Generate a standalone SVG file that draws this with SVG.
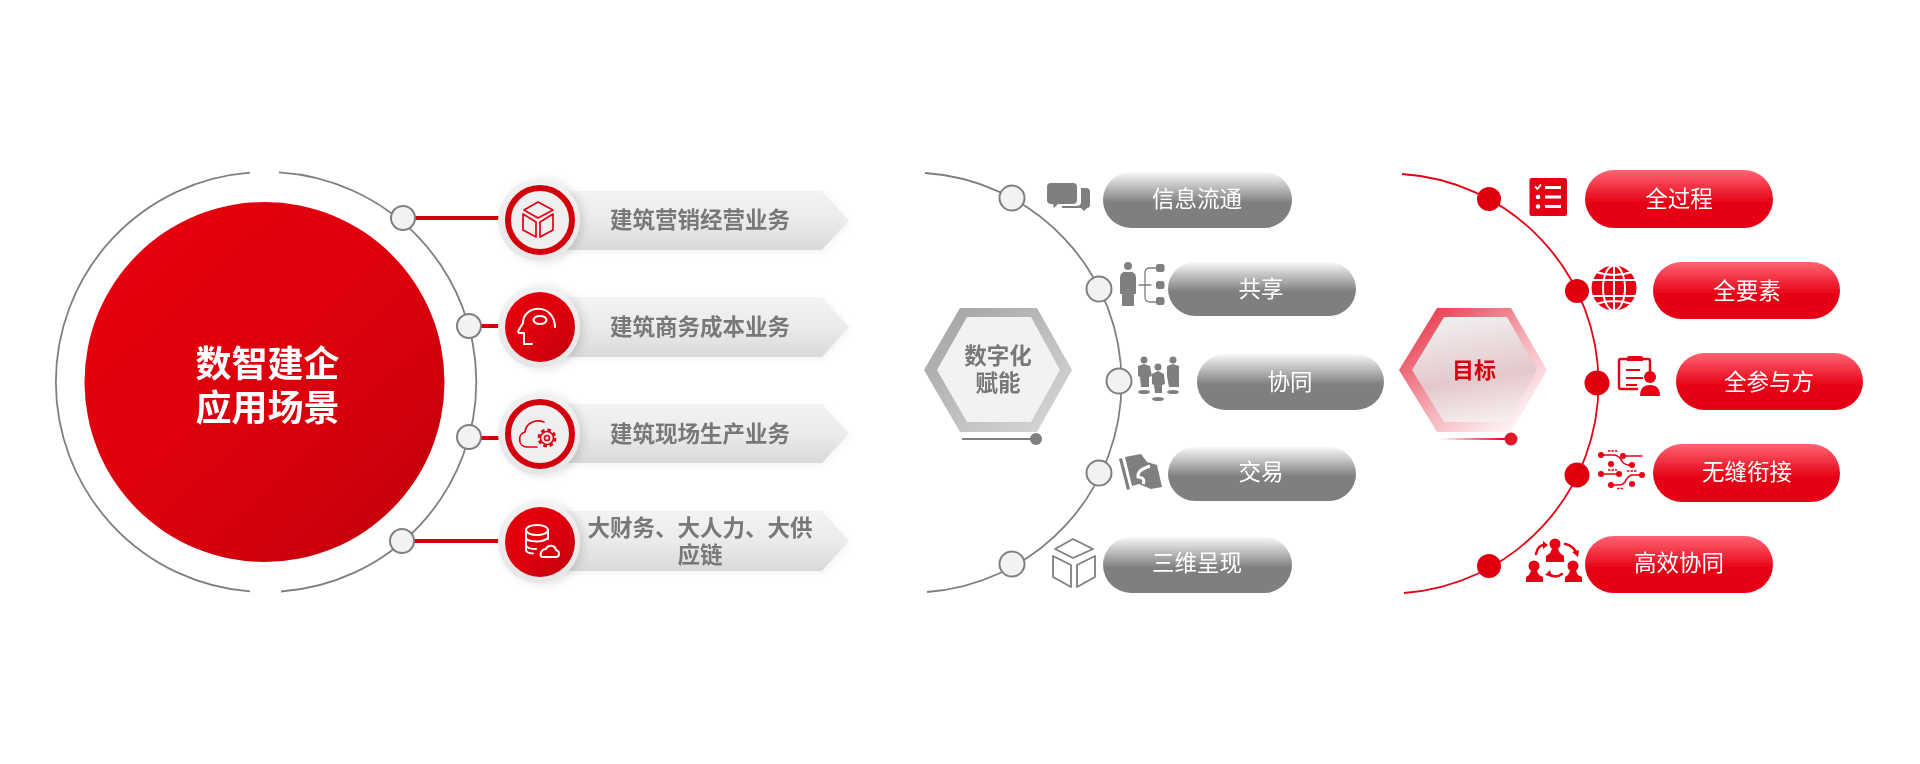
<svg xmlns="http://www.w3.org/2000/svg" width="1920" height="764" viewBox="0 0 1920 764">
<defs>
<linearGradient id="gMain" x1="0.15" y1="0.15" x2="0.85" y2="0.9"><stop offset="0" stop-color="#e40011"/><stop offset="0.55" stop-color="#dc000e"/><stop offset="1" stop-color="#c80008"/></linearGradient>
<linearGradient id="gBan" x1="0" y1="0" x2="0" y2="1"><stop offset="0" stop-color="#f3f3f3"/><stop offset="0.5" stop-color="#ebebeb"/><stop offset="1" stop-color="#d9d9d9"/></linearGradient>
<linearGradient id="gCirc" x1="0" y1="0" x2="0" y2="1"><stop offset="0" stop-color="#f2f2f2"/><stop offset="1" stop-color="#e6e6e6"/></linearGradient>
<linearGradient id="gGrayPill" x1="0" y1="0" x2="0" y2="1"><stop offset="0" stop-color="#f8f8f8"/><stop offset="0.55" stop-color="#7f7f7f"/><stop offset="1" stop-color="#7f7f7f"/></linearGradient>
<linearGradient id="gRedPill" x1="0" y1="0" x2="0" y2="1"><stop offset="0" stop-color="#ff6473"/><stop offset="0.58" stop-color="#e60012"/><stop offset="1" stop-color="#e60012"/></linearGradient>
<linearGradient id="gHexG" x1="0" y1="0" x2="1" y2="1"><stop offset="0" stop-color="#a0a0a0"/><stop offset="1" stop-color="#dadada"/></linearGradient>
<linearGradient id="gHexR" x1="0.1" y1="0.1" x2="0.9" y2="0.95"><stop offset="0" stop-color="#e83c50"/><stop offset="0.55" stop-color="#f6b4bb"/><stop offset="1" stop-color="#ffffff"/></linearGradient>
<linearGradient id="gHexRI" x1="0.35" y1="0" x2="0.55" y2="1"><stop offset="0" stop-color="#f1eeee"/><stop offset="0.6" stop-color="#e3c8cc"/><stop offset="1" stop-color="#f7eeee"/></linearGradient>
<linearGradient id="gLineR" gradientUnits="userSpaceOnUse" x1="1440" y1="0" x2="1505" y2="0"><stop offset="0" stop-color="#e60012" stop-opacity="0"/><stop offset="1" stop-color="#e60012"/></linearGradient>
<filter id="fBan" x="-5%" y="-15%" width="115%" height="135%"><feDropShadow dx="1" dy="2" stdDeviation="3.500" flood-color="#000" flood-opacity="0.05"/></filter>
<filter id="fCirc" x="-25%" y="-25%" width="150%" height="150%"><feDropShadow dx="4" dy="1" stdDeviation="4" flood-color="#000" flood-opacity="0.12"/></filter>
<filter id="fSoft" filterUnits="userSpaceOnUse" x="0" y="0" width="1920" height="764"><feGaussianBlur stdDeviation="0.45"/></filter>
</defs>
<style>
text{font-family:"Liberation Sans","Noto Sans CJK SC",sans-serif;text-anchor:middle}
.t22w{font-size:22.500px;fill:#fff}
.t22g{font-size:22.500px;fill:#787878;font-weight:700}
.arcG{fill:none;stroke:#7f7f7f;stroke-width:1.800}
.arcR{fill:none;stroke:#e60012;stroke-width:1.800}
.link{stroke:#d0000e;stroke-width:4;fill:none}
.dotG{fill:#f2f2f2;stroke:#7f7f7f;stroke-width:2}
.dotR{fill:#e00010}
.ban{fill:url(#gBan);filter:url(#fBan)}
.halo{fill:url(#gCirc);filter:url(#fCirc)}
.disc{fill:url(#gMain)}
.ring{fill:#efefef;stroke:#d2000e;stroke-width:6}
.pg{fill:url(#gGrayPill)}
.pr{fill:url(#gRedPill)}
.icoR{fill:none;stroke:#e60012;stroke-width:1.700;stroke-linejoin:round;stroke-linecap:round}
.icoW{fill:none;stroke:#fff;stroke-width:2;stroke-linejoin:round;stroke-linecap:round}
.icoG{fill:none;stroke:#7f7f7f;stroke-width:1.800;stroke-linejoin:round;stroke-linecap:round}
.fG{fill:#7f7f7f}
.fR{fill:#e60012}
.lnR{stroke:#e60012;stroke-width:1.600;fill:none;stroke-linecap:round}
</style>
<g id="diagram" filter="url(#fSoft)">
<rect x="0" y="0" width="1920" height="764" fill="#fff"/>
<g id="connectors">
<path class="arcG" d="M279 172.400A210 210 0 0 1 281 591.500"/>
<path class="arcG" d="M250 591.400A210 210 0 0 1 250 172.600"/>
<path class="link" d="M415 218H505M481 326H505M478 438H505M414 541H505"/>
<path class="arcG" d="M925 173A210 210 0 0 1 927 592"/>
<path class="arcR" d="M1402 174A210 210 0 0 1 1404 593"/>
<path d="M962 439H1036" stroke="#7f7f7f" stroke-width="2" fill="none"/>
<path d="M1440 439.010H1510" stroke="url(#gLineR)" stroke-width="2" fill="none"/>
</g>

<g id="hub">
<circle cx="264.500" cy="382" r="180" class="disc"/>
<text x="267.500" y="377" font-size="36" font-weight="700" style="fill:#fff">数智建企</text>
<text x="267.500" y="421" font-size="36" font-weight="700" style="fill:#fff">应用场景</text>
</g>
<g id="hub-dot-1"><circle cx="403" cy="218" r="12" class="dotG"/></g>
<g id="hub-dot-2"><circle cx="469" cy="326" r="12" class="dotG"/></g>
<g id="hub-dot-3"><circle cx="469" cy="437" r="12" class="dotG"/></g>
<g id="hub-dot-4"><circle cx="402" cy="541" r="12" class="dotG"/></g>

<g id="item-marketing">
<path class="ban" d="M560 191H822L849 220.500L822 250H560Z"/>
<circle cx="539" cy="220" r="41" class="halo"/>
<circle cx="540" cy="220" r="32" class="ring"/>
<path class="icoR" d="M538 202L553 210L538 218L524 210ZM523 214L536 222V237L523 230ZM553 214L540 222V237L553 230Z"/>
<text x="700" y="228" class="t22g">建筑营销经营业务</text>
</g>
<g id="item-commercial">
<path class="ban" d="M560 297H822L849 327L822 357H560Z"/>
<circle cx="539" cy="327" r="41" class="halo"/>
<circle cx="540" cy="327" r="35" class="disc"/>
<path class="icoW" d="M532 344H524V333H519.500Q517.500 332.500 518.500 330.500L523 323C523 305 554 302 555 327"/>
<ellipse cx="540" cy="320" rx="6.500" ry="4" class="icoW"/>
<text x="700" y="335" class="t22g">建筑商务成本业务</text>
</g>
<g id="item-site">
<path class="ban" d="M560 404H822L849 433.500L822 463H560Z"/>
<circle cx="539" cy="434" r="41" class="halo"/>
<circle cx="540" cy="434" r="32" class="ring"/>
<path class="icoR" d="M537 447H527C518 447 517 434 525 432C526 423 535 419 544 422"/>
<circle cx="547" cy="438" r="8" fill="none" stroke="#e60012" stroke-width="3" stroke-dasharray="3.500 2.800"/>
<circle cx="547" cy="438" r="6.500" class="icoR"/>
<circle cx="547" cy="438" r="2.500" class="icoR"/>
<text x="700" y="442" class="t22g">建筑现场生产业务</text>
</g>
<g id="item-finance">
<path class="ban" d="M560 511H822L849 541L822 571H560Z"/>
<circle cx="539" cy="542" r="41" class="halo"/>
<circle cx="540" cy="542" r="35" class="disc"/>
<ellipse cx="537" cy="530" rx="11" ry="5" class="icoW"/>
<path class="icoW" d="M526 530V550Q526 553 533 553.500M526 538C527 542 543 543 548 538V530M526 546C528 549 532 549 536 549M548 530V539"/>
<path class="icoW" d="M542 557H556C560 557 560 551 556 550C555 545 548 544 546 549C541 549 539 556 542 557Z"/>
<text x="700" y="536" class="t22g">大财务、大人力、大供</text>
<text x="700" y="563" class="t22g">应链</text>
</g>

<g id="hex-digital">
<path d="M924 370L960 308H1037L1072 370L1037 432H960Z" fill="url(#gHexG)"/>
<path d="M937 370L967 317H1031L1060 370L1031 422H967Z" fill="#f2f2f2"/>
<circle cx="1036" cy="439" r="6" class="fG"/>
<text x="998" y="364" class="t22g">数字化</text>
<text x="998" y="391" class="t22g">赋能</text>
</g>

<g id="g-info">
<circle cx="1012" cy="198" r="12.500" class="dotG"/>
<path class="fG" d="M1051 183H1073Q1077 183 1077 187V200Q1077 204 1073 204H1058L1054 208L1053 204H1051Q1047 204 1047 200V187Q1047 183 1051 183Z"/>
<path class="fG" d="M1081 188H1086Q1090 188 1090 192V205Q1090 208 1087 208L1084 211L1081 208H1062V206H1076Q1081 206 1081 202Z"/>
<rect x="1103" y="172" width="189" height="56" rx="28" class="pg"/>
<text x="1197" y="207" class="t22w">信息流通</text>
</g>
<g id="g-share">
<circle cx="1099" cy="289" r="12.500" class="dotG"/>
<circle cx="1128" cy="266" r="4" class="fG"/>
<path class="fG" d="M1124 272H1132Q1136 273 1136 278V294L1134 294V306H1122V294L1120 294V278Q1120 273 1124 272Z"/>
<path class="icoG" style="stroke-width:1.300" d="M1139 285H1151M1156 268H1150Q1145 268 1145 273V297Q1145 302 1150 302H1156"/>
<rect x="1156" y="264" width="8.500" height="8" rx="2.500" class="fG"/>
<rect x="1156" y="281" width="8.500" height="8" rx="2.500" class="fG"/>
<rect x="1156" y="297" width="8.500" height="8" rx="2.500" class="fG"/>
<rect x="1168" y="262" width="188" height="54" rx="27" class="pg"/>
<text x="1261" y="297" class="t22w">共享</text>
</g>
<g id="g-collab">
<circle cx="1119" cy="381" r="12.500" class="dotG"/>
<circle cx="1144" cy="360" r="3.500" class="fG"/><circle cx="1173" cy="360" r="3.500" class="fG"/><circle cx="1158" cy="367" r="3.500" class="fG"/>
<path class="fG" d="M1138 366L1144 364L1150 366L1152 376L1149 377V387H1141L1140 377L1138 376Z"/>
<path class="fG" d="M1167 376V366L1173 364L1179 366V387H1169Z"/>
<path class="fG" d="M1152 374L1158 371L1164 374L1165 384L1162 385V393H1155L1154 385L1152 384Z"/>
<ellipse cx="1144" cy="392" rx="6" ry="2" class="fG"/><ellipse cx="1173" cy="392" rx="6" ry="2" class="fG"/><ellipse cx="1158" cy="399" rx="6" ry="2" class="fG"/>
<rect x="1197" y="354" width="187" height="56" rx="28" class="pg"/>
<text x="1290" y="390" class="t22w">协同</text>
</g>
<g id="g-trade">
<circle cx="1099" cy="473" r="12.500" class="dotG"/>
<path class="fG" d="M1119 459L1122 458L1130 489L1127 490Z"/>
<path class="fG" d="M1125 457L1141 454L1147 462L1157 465L1162 487L1151 489L1139 484L1132 486Z"/>
<path d="M1150 466Q1137 470 1138 477Q1146 478 1143 484" fill="none" stroke="#fff" stroke-width="3"/>
<rect x="1168" y="447" width="188" height="54" rx="27" class="pg"/>
<text x="1261" y="480" class="t22w">交易</text>
</g>
<g id="g-3d">
<circle cx="1012" cy="564" r="12.500" class="dotG"/>
<path class="icoG" d="M1073 539L1093 549L1073 558L1055 549ZM1053 556L1071 565V587L1053 577ZM1095 556L1077 565V587L1095 577Z"/>
<rect x="1103" y="537" width="189" height="56" rx="28" class="pg"/>
<text x="1197" y="571" class="t22w">三维呈现</text>
</g>

<g id="hex-goal">
<path d="M1399 370L1437 308H1511L1547 370L1511 432H1437Z" fill="url(#gHexR)"/>
<path d="M1412 370L1444 317H1507L1537 370L1507 422H1444Z" fill="url(#gHexRI)"/>
<circle cx="1511" cy="439" r="6.500" fill="#e2122a"/>
<text x="1474" y="378" font-size="22" font-weight="700" style="fill:#d8000f">目标</text>
</g>

<g id="r-process">
<circle cx="1489" cy="199" r="12" class="dotR"/>
<rect x="1529.500" y="178" width="37.500" height="38" rx="2" class="fR"/>
<path d="M1545 187.500H1561M1545 197H1561M1545 206.500H1561" stroke="#fff" stroke-width="3" fill="none"/>
<path d="M1535 186.500L1537.500 189L1541 184.500" stroke="#fff" stroke-width="1.800" fill="none"/>
<circle cx="1538" cy="197" r="2.300" fill="#fff"/><circle cx="1538" cy="206.500" r="2.300" fill="#fff"/>
<rect x="1585" y="170" width="188" height="58" rx="29" class="pr"/>
<text x="1679" y="207" class="t22w">全过程</text>
</g>
<g id="r-elements">
<circle cx="1577" cy="291" r="12" class="dotR"/>
<circle cx="1614" cy="288" r="22.500" class="fR"/>
<g fill="none" stroke="#fff" stroke-width="2">
<ellipse cx="1614" cy="288" rx="11" ry="22.500"/>
<path d="M1614 265.500V310.500M1591 280H1637M1591 296H1637M1596 272Q1614 278 1632 272M1596 304Q1614 298 1632 304"/>
</g>
<rect x="1653" y="262" width="187" height="57" rx="28.500" class="pr"/>
<text x="1747" y="299" class="t22w">全要素</text>
</g>
<g id="r-parties">
<circle cx="1597" cy="383" r="12.500" class="dotR"/>
<path class="icoR" style="stroke-width:2.400" d="M1650 375V361Q1650 359 1648 359H1621Q1619 359 1619 361V387Q1619 389 1621 389H1637"/>
<path class="fR" d="M1629 356H1641Q1643 356 1643 358V361H1627V358Q1627 356 1629 356Z"/>
<path class="icoR" style="stroke-width:2.200;stroke-linecap:butt" d="M1626 370H1640M1626 378H1643M1626 385H1637"/>
<circle cx="1650" cy="377" r="6" class="fR"/>
<path class="fR" d="M1640 396Q1640 385 1650 385Q1660 385 1660 396Z"/>
<rect x="1676" y="353" width="187" height="57" rx="28.500" class="pr"/>
<text x="1769" y="390" class="t22w">全参与方</text>
</g>
<g id="r-seamless">
<circle cx="1577" cy="475" r="12.500" class="dotR"/>
<g class="fR">
<circle cx="1601" cy="455" r="3"/><circle cx="1623" cy="456" r="3"/><circle cx="1632" cy="465" r="3"/><circle cx="1611" cy="464" r="3"/>
<circle cx="1601" cy="474" r="3"/><circle cx="1619" cy="474" r="3"/><circle cx="1642" cy="475" r="3"/><circle cx="1611" cy="485" r="3"/><circle cx="1632" cy="484" r="3"/>
</g>
<path class="lnR" d="M1601 455H1615Q1619 456 1622 461Q1624 465 1630 465M1623 456H1642M1601 474H1619M1642 475H1633Q1629 475 1626 480Q1624 485 1618 485H1611"/>
<path d="M1608 451H1618M1608 470H1617M1627 471H1637M1617 488.500H1624" stroke="#e60012" stroke-width="1.500" stroke-dasharray="2.500 1" fill="none"/>
<rect x="1653" y="444" width="187" height="58" rx="29" class="pr"/>
<text x="1747" y="480" class="t22w">无缝衔接</text>
</g>
<g id="r-synergy">
<circle cx="1489" cy="566" r="12" class="dotR"/>
<circle cx="1555" cy="544" r="5.500" class="fR"/><circle cx="1534" cy="566" r="5.500" class="fR"/><circle cx="1573" cy="566" r="5.500" class="fR"/>
<path class="fR" d="M1552 549H1558L1560 553L1564 556V562H1546V556L1550 553Z"/>
<path class="fR" d="M1531 571H1537L1539 575L1543 577V582H1526V577L1529 575Z"/>
<path class="fR" d="M1570 571H1576L1578 575L1582 577V582H1565V577L1568 575Z"/>
<path class="icoR" style="stroke-width:2.600" d="M1536 554Q1538 545 1544 545M1565 544Q1572 545 1576 552M1562 574Q1555 579 1549 574"/>
<path class="fR" d="M1543 541L1548 545L1543 549ZM1572 552L1579 550L1578 557ZM1550 570L1545 575L1552 577Z"/>
<rect x="1585" y="536" width="188" height="57" rx="28.500" class="pr"/>
<text x="1679" y="571" class="t22w">高效协同</text>
</g>
</g>
</svg>
